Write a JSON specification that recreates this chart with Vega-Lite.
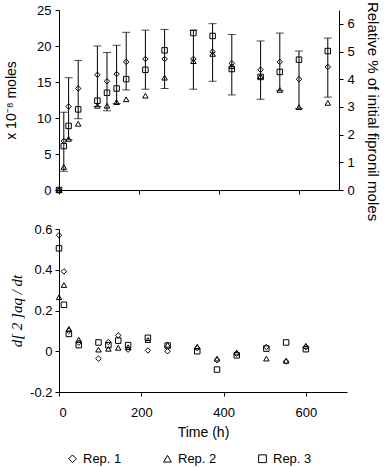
{
  "$schema": "https://vega.github.io/schema/vega-lite/v6.json",
  "padding": {"left": 4, "top": 1, "right": 5, "bottom": 0},
  "background": "white",
  "spacing": 2,
  "config": {
    "view": {"stroke": null},
    "axis": {
      "grid": false,
      "domainColor": "black",
      "tickColor": "black",
      "labelColor": "black",
      "titleColor": "black",
      "labelFont": "Liberation Sans",
      "titleFont": "Liberation Sans",
      "labelFontSize": 13,
      "titleFontSize": 14,
      "titleFontWeight": "normal",
      "tickSize": 4,
      "labelOverlap": false
    },
    "legend": {"labelFont": "Liberation Sans", "labelFontSize": 13, "labelColor": "black"}
  },
  "datasets": {
    "top": [
      {"t": 0, "rep": "Rep. 1", "v": 0}, {"t": 0, "rep": "Rep. 2", "v": 0}, {"t": 0, "rep": "Rep. 3", "v": 0},
      {"t": 12, "rep": "Rep. 1", "v": 6.8}, {"t": 12, "rep": "Rep. 2", "v": 3.2}, {"t": 12, "rep": "Rep. 3", "v": 6.1},
      {"t": 24, "rep": "Rep. 1", "v": 11.6}, {"t": 24, "rep": "Rep. 2", "v": 7.1}, {"t": 24, "rep": "Rep. 3", "v": 8.9},
      {"t": 48, "rep": "Rep. 1", "v": 14.1}, {"t": 48, "rep": "Rep. 2", "v": 9.2}, {"t": 48, "rep": "Rep. 3", "v": 11.2},
      {"t": 96, "rep": "Rep. 1", "v": 16.0}, {"t": 96, "rep": "Rep. 2", "v": 11.7}, {"t": 96, "rep": "Rep. 3", "v": 12.4},
      {"t": 120, "rep": "Rep. 1", "v": 15.1}, {"t": 120, "rep": "Rep. 2", "v": 11.7}, {"t": 120, "rep": "Rep. 3", "v": 13.5},
      {"t": 144, "rep": "Rep. 1", "v": 16.1}, {"t": 144, "rep": "Rep. 2", "v": 12.2}, {"t": 144, "rep": "Rep. 3", "v": 14.1},
      {"t": 168, "rep": "Rep. 1", "v": 17.8}, {"t": 168, "rep": "Rep. 2", "v": 12.6}, {"t": 168, "rep": "Rep. 3", "v": 15.4},
      {"t": 216, "rep": "Rep. 1", "v": 18.2}, {"t": 216, "rep": "Rep. 2", "v": 13.1}, {"t": 216, "rep": "Rep. 3", "v": 16.7},
      {"t": 264, "rep": "Rep. 1", "v": 18.2}, {"t": 264, "rep": "Rep. 2", "v": 15.6}, {"t": 264, "rep": "Rep. 3", "v": 19.4},
      {"t": 336, "rep": "Rep. 1", "v": 18.2}, {"t": 336, "rep": "Rep. 2", "v": 17.9}, {"t": 336, "rep": "Rep. 3", "v": 21.8},
      {"t": 384, "rep": "Rep. 1", "v": 19.2}, {"t": 384, "rep": "Rep. 2", "v": 18.9}, {"t": 384, "rep": "Rep. 3", "v": 21.4},
      {"t": 432, "rep": "Rep. 1", "v": 17.6}, {"t": 432, "rep": "Rep. 2", "v": 17.2}, {"t": 432, "rep": "Rep. 3", "v": 16.8},
      {"t": 504, "rep": "Rep. 1", "v": 16.7}, {"t": 504, "rep": "Rep. 2", "v": 15.8}, {"t": 504, "rep": "Rep. 3", "v": 15.7},
      {"t": 552, "rep": "Rep. 1", "v": 17.8}, {"t": 552, "rep": "Rep. 2", "v": 13.9}, {"t": 552, "rep": "Rep. 3", "v": 16.4},
      {"t": 600, "rep": "Rep. 1", "v": 15.4}, {"t": 600, "rep": "Rep. 2", "v": 11.5}, {"t": 600, "rep": "Rep. 3", "v": 18.1},
      {"t": 672, "rep": "Rep. 1", "v": 17.1}, {"t": 672, "rep": "Rep. 2", "v": 12.1}, {"t": 672, "rep": "Rep. 3", "v": 19.3}
    ],
    "err": [
      {"t": 12, "lo": 2.6, "hi": 10.8},
      {"t": 24, "lo": 7.0, "hi": 15.6},
      {"t": 48, "lo": 9.9, "hi": 18.0},
      {"t": 96, "lo": 11.6, "hi": 20.0},
      {"t": 120, "lo": 11.0, "hi": 19.1},
      {"t": 144, "lo": 12.0, "hi": 20.1},
      {"t": 168, "lo": 13.9, "hi": 21.9},
      {"t": 216, "lo": 14.0, "hi": 22.2},
      {"t": 264, "lo": 14.1, "hi": 22.3},
      {"t": 336, "lo": 14.0, "hi": 22.2},
      {"t": 384, "lo": 15.1, "hi": 23.1},
      {"t": 432, "lo": 13.2, "hi": 21.6},
      {"t": 504, "lo": 12.6, "hi": 20.7},
      {"t": 552, "lo": 13.8, "hi": 21.8},
      {"t": 600, "lo": 11.3, "hi": 19.3},
      {"t": 672, "lo": 12.9, "hi": 21.1}
    ],
    "pct": [{"p": 0}, {"p": 6.5}],
    "bot": [
      {"t": 0, "rep": "Rep. 1", "v": 0.569}, {"t": 0, "rep": "Rep. 2", "v": 0.265}, {"t": 0, "rep": "Rep. 3", "v": 0.505},
      {"t": 12, "rep": "Rep. 1", "v": 0.392}, {"t": 12, "rep": "Rep. 2", "v": 0.325}, {"t": 12, "rep": "Rep. 3", "v": 0.228},
      {"t": 24, "rep": "Rep. 1", "v": 0.10}, {"t": 24, "rep": "Rep. 2", "v": 0.11}, {"t": 24, "rep": "Rep. 3", "v": 0.085},
      {"t": 48, "rep": "Rep. 1", "v": 0.042}, {"t": 48, "rep": "Rep. 2", "v": 0.057}, {"t": 48, "rep": "Rep. 3", "v": 0.03},
      {"t": 96, "rep": "Rep. 1", "v": -0.036}, {"t": 96, "rep": "Rep. 2", "v": 0.008}, {"t": 96, "rep": "Rep. 3", "v": 0.043},
      {"t": 120, "rep": "Rep. 1", "v": 0.045}, {"t": 120, "rep": "Rep. 2", "v": 0.012}, {"t": 120, "rep": "Rep. 3", "v": 0.03},
      {"t": 144, "rep": "Rep. 1", "v": 0.078}, {"t": 144, "rep": "Rep. 2", "v": 0.017}, {"t": 144, "rep": "Rep. 3", "v": 0.052},
      {"t": 168, "rep": "Rep. 1", "v": 0.008}, {"t": 168, "rep": "Rep. 2", "v": 0.02}, {"t": 168, "rep": "Rep. 3", "v": 0.03},
      {"t": 216, "rep": "Rep. 1", "v": 0.004}, {"t": 216, "rep": "Rep. 2", "v": 0.055}, {"t": 216, "rep": "Rep. 3", "v": 0.066},
      {"t": 264, "rep": "Rep. 1", "v": 0.0}, {"t": 264, "rep": "Rep. 2", "v": 0.032}, {"t": 264, "rep": "Rep. 3", "v": 0.028},
      {"t": 336, "rep": "Rep. 1", "v": 0.015}, {"t": 336, "rep": "Rep. 2", "v": 0.023}, {"t": 336, "rep": "Rep. 3", "v": 0.0},
      {"t": 384, "rep": "Rep. 1", "v": -0.044}, {"t": 384, "rep": "Rep. 2", "v": -0.036}, {"t": 384, "rep": "Rep. 3", "v": -0.09},
      {"t": 432, "rep": "Rep. 1", "v": -0.012}, {"t": 432, "rep": "Rep. 2", "v": -0.006}, {"t": 432, "rep": "Rep. 3", "v": -0.02},
      {"t": 504, "rep": "Rep. 1", "v": 0.021}, {"t": 504, "rep": "Rep. 2", "v": -0.036}, {"t": 504, "rep": "Rep. 3", "v": 0.013},
      {"t": 552, "rep": "Rep. 1", "v": -0.05}, {"t": 552, "rep": "Rep. 2", "v": -0.047}, {"t": 552, "rep": "Rep. 3", "v": 0.043},
      {"t": 600, "rep": "Rep. 1", "v": 0.02}, {"t": 600, "rep": "Rep. 2", "v": 0.027}, {"t": 600, "rep": "Rep. 3", "v": 0.01}
    ]
  },
  "vconcat": [
    {
      "width": 280,
      "height": 180,
      "layer": [
        {
          "layer": [
            {
              "data": {"name": "err"},
              "mark": {"type": "rule", "color": "black", "strokeWidth": 1},
              "encoding": {
                "x": {"field": "t", "type": "quantitative", "scale": {"domain": [0, 700], "nice": false},
                      "axis": {"values": [0, 200, 400, 600], "labels": false, "title": null}},
                "y": {"field": "lo", "type": "quantitative", "scale": {"domain": [0, 25], "nice": false},
                      "axis": {"values": [0, 5, 10, 15, 20, 25], "title": "x 10⁻⁸ moles", "labelPadding": 4, "titlePadding": 18}},
                "y2": {"field": "hi"}
              }
            },
            {
              "data": {"name": "err"},
              "mark": {"type": "tick", "orient": "horizontal", "color": "black", "size": 8, "thickness": 1},
              "encoding": {
                "x": {"field": "t", "type": "quantitative",
                      "axis": {"values": [0, 200, 400, 600], "labels": false, "title": null}},
                "y": {"field": "lo", "type": "quantitative",
                      "axis": {"values": [0, 5, 10, 15, 20, 25], "title": "x 10⁻⁸ moles", "labelPadding": 4, "titlePadding": 18}}
              }
            },
            {
              "data": {"name": "err"},
              "mark": {"type": "tick", "orient": "horizontal", "color": "black", "size": 8, "thickness": 1},
              "encoding": {
                "x": {"field": "t", "type": "quantitative",
                      "axis": {"values": [0, 200, 400, 600], "labels": false, "title": null}},
                "y": {"field": "hi", "type": "quantitative",
                      "axis": {"values": [0, 5, 10, 15, 20, 25], "title": "x 10⁻⁸ moles", "labelPadding": 4, "titlePadding": 18}}
              }
            },
            {
              "data": {"name": "top"},
              "mark": {"type": "point", "filled": false, "color": "black", "strokeWidth": 1, "size": 30, "opacity": 1},
              "encoding": {
                "x": {"field": "t", "type": "quantitative",
                      "axis": {"values": [0, 200, 400, 600], "labels": false, "title": null}},
                "y": {"field": "v", "type": "quantitative",
                      "axis": {"values": [0, 5, 10, 15, 20, 25], "title": "x 10⁻⁸ moles", "labelPadding": 4, "titlePadding": 18}},
                "shape": {"field": "rep", "type": "nominal",
                          "scale": {"domain": ["Rep. 1", "Rep. 2", "Rep. 3"], "range": ["diamond", "triangle-up", "square"]},
                          "legend": {"orient": "none", "legendX": 7, "legendY": 442, "direction": "horizontal", "title": null, "columnPadding": 39,
                                     "symbolStrokeColor": "black", "symbolFillColor": "white", "symbolSize": 60, "symbolStrokeWidth": 1}}
              }
            }
          ]
        },
        {
          "data": {"name": "pct"},
          "mark": {"type": "point", "opacity": 0},
          "encoding": {
            "y": {"field": "p", "type": "quantitative", "scale": {"domain": [0, 6.5], "nice": false},
                  "axis": {"orient": "right", "values": [0, 1, 2, 3, 4, 5, 6], "title": "Relative % of initial fipronil moles",
                           "titleFontSize": 15, "titlePadding": 10, "titleY": 101, "labelPadding": 4}}
          }
        }
      ],
      "resolve": {"scale": {"y": "independent"}}
    },
    {
      "width": 288,
      "height": 163,
      "layer": [
        {
          "mark": {"type": "rule", "color": "black", "strokeWidth": 1},
          "encoding": {"y": {"datum": 0, "type": "quantitative"}}
        },
        {
          "data": {"name": "bot"},
          "mark": {"type": "point", "filled": false, "color": "black", "strokeWidth": 1, "size": 30, "opacity": 1},
          "encoding": {
            "x": {"field": "t", "type": "quantitative", "scale": {"domain": [0, 700], "nice": false},
                  "axis": {"values": [0, 200, 400, 600], "title": "Time (h)", "labelPadding": 10, "titlePadding": 6}},
            "y": {"field": "v", "type": "quantitative", "scale": {"domain": [-0.2, 0.6], "nice": false},
                  "axis": {"values": [-0.2, 0, 0.2, 0.4, 0.6], "title": "d[ 2 ]aq / dt", "titleFont": "Liberation Serif", "titleFontStyle": "italic", "titleFontSize": 15,
                           "labelExpr": "replace(format(datum.value, '~g'), '−', '-')", "labelPadding": 3, "titlePadding": 5}},
            "shape": {"field": "rep", "type": "nominal",
                      "scale": {"domain": ["Rep. 1", "Rep. 2", "Rep. 3"], "range": ["diamond", "triangle-up", "square"]},
                      "legend": {"orient": "none", "legendX": 7, "legendY": 442, "direction": "horizontal", "title": null, "columnPadding": 39,
                                 "symbolStrokeColor": "black", "symbolFillColor": "white", "symbolSize": 60, "symbolStrokeWidth": 1}}
          }
        }
      ]
    }
  ]
}
